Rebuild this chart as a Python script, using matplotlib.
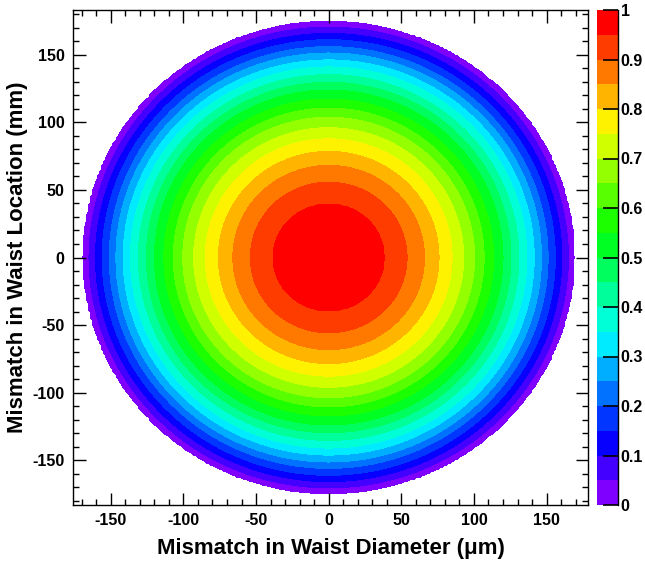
import matplotlib
matplotlib.use("Agg")
import matplotlib.pyplot as plt
from matplotlib.colors import ListedColormap, BoundaryNorm, hsv_to_rgb
from matplotlib.ticker import MultipleLocator
import numpy as np

plt.rcParams["font.family"] = ["Liberation Sans", "DejaVu Sans"]
plt.rcParams["font.weight"] = "bold"
plt.rcParams["axes.unicode_minus"] = False

# contour levels (coupling) and the radius of each ring boundary
LEVELS = [0.0, 0.05, 0.10, 0.15, 0.20, 0.25, 0.30, 0.35, 0.40, 0.45, 0.50,
          0.55, 0.60, 0.65, 0.70, 0.75, 0.80, 0.85, 0.90, 0.95, 1.0]
RING_X = [169.5, 165.0, 160.5, 156.0, 151.0, 146.5, 141.5, 136.5, 131.0, 125.5,
          120.0, 113.5, 107.0, 100.5, 93.0, 85.0, 76.0, 66.0, 54.0, 38.5, 0.0]  # um
OUTER_Y = 175.0   # mm, outer edge along the location axis

XTICKS = [-150, -100, -50, 0, 50, 100, 150]
YTICKS = [-150, -100, -50, 0, 50, 100, 150]
ZTICKS = [0, 0.1, 0.2, 0.3, 0.4, 0.5, 0.6, 0.7, 0.8, 0.9, 1]
ZLABELS = ["0", "0.1", "0.2", "0.3", "0.4", "0.5", "0.6", "0.7", "0.8", "0.9", "1"]

gx = np.linspace(-180, 180, 241)
gy = np.linspace(-185, 185, 247)
X, Y = np.meshgrid(gx, gy)
R = np.hypot(X, Y * RING_X[0] / OUTER_Y)
Z = np.interp(R, RING_X[::-1], LEVELS[::-1], right=-0.02)

# ROOT "pretty" palette: violet -> red
ncol = len(LEVELS) - 1
hues = np.linspace(270, 0, ncol) / 360.0
colors = hsv_to_rgb(np.column_stack([hues, np.ones(ncol), np.ones(ncol)]))
cmap = ListedColormap(colors)
norm = BoundaryNorm(LEVELS, cmap.N)

fig = plt.figure(figsize=(6.45, 5.65), dpi=100)
ax = fig.add_axes([73 / 645, 1 - 505 / 565, 515 / 645, 495 / 565])
cax = fig.add_axes([597 / 645, 1 - 505 / 565, 21 / 645, 495 / 565])

ax.contourf(X, Y, Z, levels=LEVELS, cmap=cmap, norm=norm)
ax.set_xlim(-176, 178.5)
ax.set_ylim(-183, 183)

ax.set_xticks(XTICKS)
ax.set_yticks(YTICKS)
ax.xaxis.set_minor_locator(MultipleLocator(10))
ax.yaxis.set_minor_locator(MultipleLocator(10))
ax.tick_params(which="both", direction="in", top=True, right=True,
               labelsize=11.5, width=1, pad=6)
ax.tick_params(which="major", length=9)
ax.tick_params(which="minor", length=4.5)
for s in ax.spines.values():
    s.set_linewidth(1)

ax.set_xlabel("Mismatch in Waist Diameter (\u03bcm)", fontsize=16,
              fontweight="bold", labelpad=7)
ax.set_ylabel("Mismatch in Waist Location (mm)", fontsize=16,
              fontweight="bold", labelpad=3)

# color scale
zb = np.array(LEVELS)
cax.pcolormesh([0, 1], zb, (zb[:-1] + 0.025)[:, None], cmap=cmap, norm=norm)
cax.set_xlim(0, 1)
cax.set_ylim(0, 1)
cax.set_xticks([])
cax.yaxis.tick_right()
cax.set_yticks(ZTICKS)
cax.set_yticklabels(ZLABELS)
cax.tick_params(axis="y", direction="in", length=11, width=1.2,
                labelsize=11.5, pad=2)
for side in ("top", "bottom", "left"):
    cax.spines[side].set_visible(False)
cax.spines["right"].set_linewidth(1)

fig.savefig("out.png", dpi=100)
